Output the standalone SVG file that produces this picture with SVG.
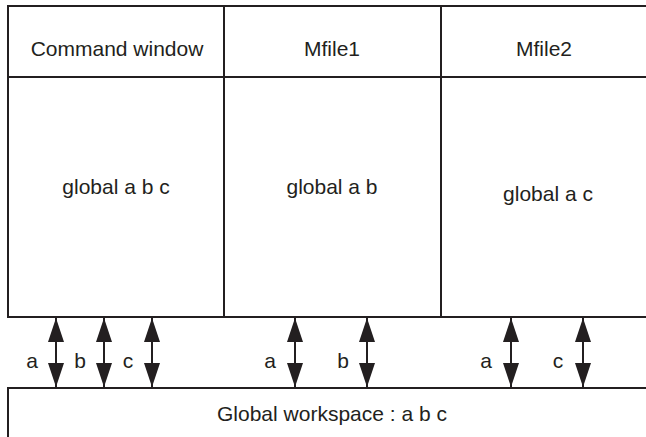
<svg xmlns="http://www.w3.org/2000/svg" width="646" height="437" viewBox="0 0 646 437">
<defs>
<marker id="ah" viewBox="0 0 24 16" refX="24" refY="8" markerWidth="24" markerHeight="16" markerUnits="userSpaceOnUse" orient="auto-start-reverse">
<path d="M0,0 L24,8 L0,16 Z" fill="#231f20"/>
</marker>
<style>
.ln{fill:none;stroke:#231f20;stroke-width:2}
.t{font-family:"Liberation Sans",Arial,sans-serif;font-size:21px;fill:#231f20;text-anchor:middle}
.lb{font-family:"Liberation Sans",Arial,sans-serif;font-size:21px;fill:#231f20;text-anchor:middle}
.ar{stroke:#231f20;stroke-width:2;fill:none;marker-start:url(#ah);marker-end:url(#ah)}
</style>
</defs>
<rect width="646" height="437" fill="#fff"/>
<g id="frame">
<path class="ln" d="M660,6 H8 V317 H660"/>
<line class="ln" x1="8" y1="77" x2="660" y2="77"/>
</g>
<g id="command-window">
<line class="ln" x1="224" y1="6" x2="224" y2="317"/>
<text class="t" x="117" y="56">Command window</text>
<text class="t" x="116" y="194">global a b c</text>
</g>
<g id="mfile1">
<line class="ln" x1="441" y1="6" x2="441" y2="317"/>
<text class="t" x="332" y="56">Mfile1</text>
<text class="t" x="332" y="194">global a b</text>
</g>
<g id="mfile2">
<text class="t" x="544" y="56">Mfile2</text>
<text class="t" x="548" y="201">global a c</text>
</g>
<g id="global-workspace">
<path class="ln" d="M8,445 V388 H660"/>
<text class="t" x="332" y="421">Global workspace : a b c</text>
</g>
<g id="connectors">
<line class="ar" x1="56" y1="318" x2="56" y2="387"/>
<line class="ar" x1="104" y1="318" x2="104" y2="387"/>
<line class="ar" x1="152" y1="318" x2="152" y2="387"/>
<line class="ar" x1="295" y1="318" x2="295" y2="387"/>
<line class="ar" x1="367" y1="318" x2="367" y2="387"/>
<line class="ar" x1="511" y1="318" x2="511" y2="387"/>
<line class="ar" x1="583" y1="318" x2="583" y2="387"/>
<text class="lb" x="32" y="368">a</text>
<text class="lb" x="80" y="368">b</text>
<text class="lb" x="128" y="368">c</text>
<text class="lb" x="270" y="368">a</text>
<text class="lb" x="343" y="368">b</text>
<text class="lb" x="486" y="368">a</text>
<text class="lb" x="558" y="368">c</text>
</g>
</svg>
